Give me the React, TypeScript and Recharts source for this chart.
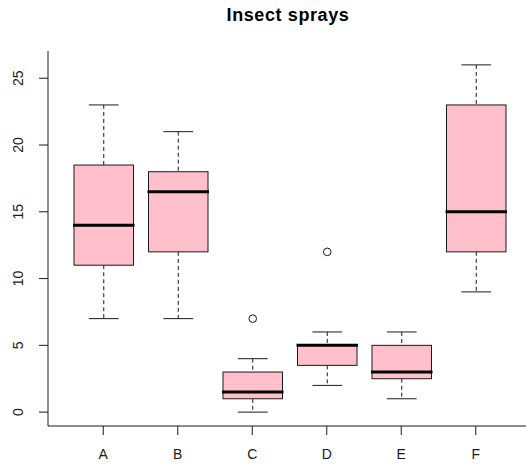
import React from 'react';
import { ComposedChart, Bar, XAxis, YAxis } from 'recharts';

const categories = ['A', 'B', 'C', 'D', 'E', 'F'];
const whiskerLow = [7, 7, 0, 2, 1, 9];
const lowerHinge = [11, 12, 1, 3.5, 2.5, 12];
const medians = [14, 16.5, 1.5, 5, 3, 15];
const upperHinge = [18.5, 18, 3, 5, 5, 23];
const whiskerHigh = [23, 21, 4, 6, 6, 26];
const outliers: number[][] = [[], [], [7], [12], [], []];
const yTicks = [0, 5, 10, 15, 20, 25];

const data = categories.map((name, i) => ({
  name,
  lo: whiskerLow[i],
  q1: lowerHinge[i],
  med: medians[i],
  q3: upperHinge[i],
  hi: whiskerHigh[i],
  out: outliers[i],
}));

const FONT = '"Liberation Sans", Arial, Helvetica, sans-serif';
const INK = '#1a1a1a';

const BoxShape = (props: any) => {
  const { x, y, width, height, payload } = props;
  if (payload == null) return null;
  const top = Math.min(y, y + height);
  const bottom = Math.max(y, y + height);
  const { lo, q1, med, q3, hi, out } = payload;
  const ppu = (bottom - top) / (hi - lo);
  const py = (v: number) => bottom - (v - lo) * ppu;
  const cx = x + width / 2;
  const half = width / 2;
  const staple = half / 2;
  return (
    <g>
      <line x1={cx} x2={cx} y1={py(hi)} y2={py(q3)} stroke={INK} strokeWidth={1} strokeDasharray="4 3" />
      <line x1={cx} x2={cx} y1={py(q1)} y2={py(lo)} stroke={INK} strokeWidth={1} strokeDasharray="4 3" />
      <line x1={cx - staple} x2={cx + staple} y1={py(hi)} y2={py(hi)} stroke={INK} strokeWidth={1} />
      <line x1={cx - staple} x2={cx + staple} y1={py(lo)} y2={py(lo)} stroke={INK} strokeWidth={1} />
      <rect x={cx - half} y={py(q3)} width={width} height={py(q1) - py(q3)} fill="#FFC0CB" stroke={INK} strokeWidth={1} />
      <line x1={cx - half - 1} x2={cx + half + 1} y1={py(med)} y2={py(med)} stroke="#000" strokeWidth={3} />
      {(out as number[]).map((v, k) => (
        <circle key={k} cx={cx} cy={py(v)} r={3.8} fill="none" stroke={INK} strokeWidth={1} />
      ))}
    </g>
  );
};

const YTick = (props: any) => {
  const { y, payload } = props;
  const bx = 23;
  return (
    <text x={bx} y={y} transform={`rotate(-90, ${bx}, ${y})`} textAnchor="middle" fontFamily={FONT} fontSize={14} fill={INK}>
      {payload.value}
    </text>
  );
};

const XTick = (props: any) => {
  const { x, payload } = props;
  return (
    <text x={x} y={459} textAnchor="middle" fontFamily={FONT} fontSize={14} fill={INK}>
      {payload.value}
    </text>
  );
};

export default function App() {
  return (
    <div style={{ position: 'absolute', left: 0, top: 0, width: 526, height: 466, overflow: 'hidden', background: '#fff' }}>
      <svg width={526} height={40} style={{ position: 'absolute', left: 0, top: 0 }}>
        <text x={288} y={21} textAnchor="middle" fontFamily={FONT} fontWeight="bold" fontSize={18} letterSpacing={0.6} fill="#000">
          Insect sprays
        </text>
      </svg>
      <div style={{ position: 'absolute', left: 0, top: 0, width: 526, height: 466, overflow: 'hidden' }}>
        <ComposedChart width={640} height={466} data={data} margin={{ top: 51, right: 109, bottom: 0, left: 0 }}>
          <XAxis
            dataKey="name"
            type="category"
            height={40}
            padding={{ left: 18, right: 18 }}
            tickSize={9}
            tickLine={{ stroke: INK }}
            axisLine={{ stroke: INK }}
            tick={<XTick />}
            interval={0}
          />
          <XAxis
            xAxisId="top"
            dataKey="name"
            orientation="top"
            height={0}
            tick={false}
            tickLine={false}
            axisLine={{ stroke: INK }}
          />
          <YAxis
            type="number"
            domain={[-1.04, 27.04]}
            ticks={yTicks}
            width={48}
            tickSize={9}
            tickLine={{ stroke: INK }}
            axisLine={{ stroke: INK }}
            tick={<YTick />}
            interval={0}
            allowDataOverflow
          />
          <Bar
            dataKey={(d: any) => [d.lo, d.hi]}
            barSize={59.5}
            shape={<BoxShape />}
            isAnimationActive={false}
          />
        </ComposedChart>
      </div>
    </div>
  );
}
